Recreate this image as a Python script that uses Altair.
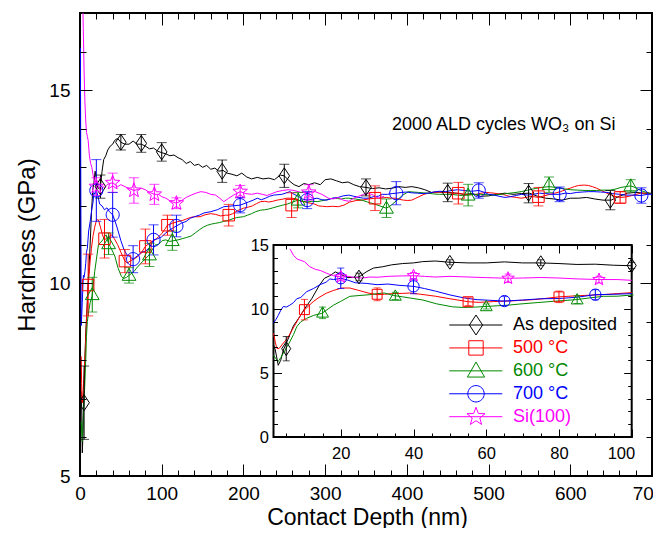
import math
import altair as alt
import pandas as pd

FONT = "Liberation Sans"
SERIES = ["As deposited", "500 °C", "600 °C", "700 °C", "Si(100)"]
COLORS = ["#000000", "#ff0000", "#008800", "#0000ff", "#ff00ff"]
ANNOT = "2000 ALD cycles WO₃ on Si"
X_TITLE = "Contact Depth (nm)"
Y_TITLE = "Hardness (GPa)"

# ---- line data (contact depth nm, hardness GPa) ----
BLACK = [(1.5,7.2),(2.0,6.8),(2.8,5.6),(3.5,6.0),(4.2,6.8),(5.0,7.3),(6.0,8.0),(7.0,8.7),(8.5,9.3),(10.0,10.0),
 (12.0,10.8),(14.0,11.8),(15.5,12.4),(17.0,12.6),(18.5,12.9),(20.0,12.7),(22.0,12.45),(25.0,12.5),(27.0,12.9),
 (29.0,13.2),(31.5,13.3),(34.0,13.45),(37.0,13.55),(40.0,13.6),(42.5,13.7),(46.0,13.75),(50.0,13.65),(55.0,13.6),
 (60.0,13.6),(65.0,13.68),(70.0,13.6),(75.0,13.6),(80.0,13.55),(85.0,13.48),(90.0,13.5),(95.0,13.42),(100.0,13.38),
 (105,13.35),(110,13.3),(115,13.32),(120,13.25),(125,13.2),(130,13.1),(135,13.15),(140,13.05),(145,13.08),(150,13.0),
 (155,13.05),(160,12.95),(165,12.98),(170,12.9),(175,12.92),(180,12.85),(186,12.82),(192,12.78),(198,12.85),
 (204,12.75),(210,12.7),(217,12.74),(224,12.7),(231,12.72),(238,12.68),(245,12.8),(250,12.78),(256,12.65),
 (262,12.55),(268,12.5),(274,12.58),(280,12.55),(287,12.6),(294,12.55),(300,12.68),(307,12.7),(314,12.65),
 (321,12.6),(328,12.62),(335,12.55),(342,12.5),(350,12.48),(358,12.45),(366,12.47),(374,12.44),(382,12.46),
 (390,12.5),(398,12.48),(406,12.5),(414,12.47),(422,12.42),(430,12.35),(438,12.36),(450,12.35),(460,12.33),
 (470,12.3),(480,12.32),(490,12.25),(500,12.26),(510,12.3),(520,12.33),(530,12.3),(540,12.32),(550,12.33),
 (560,12.25),(570,12.2),(580,12.18),(590,12.15),(600,12.2),(610,12.2),(620,12.22),(630,12.18),(640,12.15),
 (650,12.15),(660,12.25),(670,12.33),(680,12.35),(690,12.33),(700,12.33)]

RED = [(1.5,8.1),(2.0,7.4),(2.4,6.93),(3.0,6.9),(3.8,7.19),(4.7,7.5),(5.6,7.84),(6.5,8.3),(7.4,8.75),(8.5,9.3),
 (9.7,9.85),(11.0,10.2),(12.4,10.57),(14.0,10.9),(16.0,11.23),(18.0,11.45),(20.3,11.64),(22.5,11.64),(25.0,11.45),
 (27.5,11.25),(30.0,11.12),(32.0,11.15),(34.0,11.2),(37.0,11.22),(39.0,11.25),(42.0,11.15),(46.0,11.0),(50.0,10.8),
 (55.0,10.57),(58.0,10.52),(62.0,10.58),(66.0,10.62),(70.0,10.68),(74.0,10.75),(80.0,10.95),(86.0,11.05),
 (92.0,11.12),(96.0,11.2),(100.0,11.28),(104,11.4),(107,11.5),(113,11.55),(119,11.59),(125,11.62),(130,11.66),
 (135,11.7),(140,11.72),(147,11.72),(153,11.77),(160,11.8),(166,11.78),(172,11.74),(178,11.76),(182,11.76),
 (187,11.8),(193,11.88),(200,11.94),(206,11.97),(211,12.0),(216,12.06),(221,12.11),(226,12.12),(231,12.1),
 (236,12.12),(241,12.15),(247,12.17),(253,12.2),(259,12.2),(265,12.18),(270,12.12),(276,12.1),(282,12.07),
 (287,12.05),(292,12.0),(297,11.99),(302,11.98),(309,11.99),(316,11.98),(323,12.02),(330,12.1),(338,12.14),
 (345,12.15),(353,12.18),(361,12.2),(368,12.2),(375,12.22),(381,12.2),(386,12.2),(391,12.17),(396,12.15),
 (401,12.14),(406,12.15),(411,12.2),(416,12.25),(421,12.3),(426,12.33),(433,12.35),(440,12.36),(447,12.35),
 (455,12.33),(463,12.33),(470,12.3),(478,12.29),(485,12.3),(491,12.33),(497,12.35),(502,12.34),(507,12.33),
 (512,12.31),(517,12.3),(522,12.27),(527,12.24),(534,12.22),(540,12.2),(546,12.22),(552,12.25),(561,12.22),
 (568,12.26),(575,12.3),(581,12.33),(588,12.37),(594,12.42),(600,12.46),(605,12.5),(610,12.53),(617,12.54),
 (622,12.53),(627,12.5),(632,12.46),(637,12.41),(642,12.36),(648,12.3),(654,12.25),(661,12.22),(667,12.23),
 (672,12.25),(679,12.29),(686,12.33),(692,12.33),(697,12.33)]

GREEN = [(1.5,6.4),(2.2,6.1),(2.8,5.9),(3.5,6.2),(4.2,6.54),(5.0,6.95),(6.0,7.45),(7.0,8.0),(7.9,8.62),(9.0,9.0),
 (10.6,9.27),(12.5,9.5),(14.8,9.66),(16.5,10.0),(18.0,10.3),(20.0,10.6),(22.5,10.99),(25.0,11.05),(28.0,11.12),
 (30.0,11.2),(32.0,11.25),(34.6,11.05),(37.0,10.95),(39.0,10.86),(42.6,10.7),(46.4,10.4),(50.7,10.17),(53.7,10.12),
 (57.0,10.15),(60.0,10.2),(63.0,10.25),(66.0,10.3),(69.3,10.39),(74.0,10.5),(78.5,10.6),(84.7,10.73),(88.0,10.85),
 (92.2,10.99),(96.0,11.0),(100.5,11.1),(105,11.12),(110,11.08),(115,11.1),(120,11.12),(125,11.15),(130,11.18),
 (136,11.22),(141,11.3),(146,11.38),(151,11.45),(156,11.5),(161,11.53),(166,11.55),(171,11.57),(176,11.6),
 (181,11.62),(186,11.66),(192,11.7),(200,11.72),(205,11.76),(210,11.8),(215,11.85),(221,11.89),(226,11.9),
 (231,11.92),(236,11.95),(241,11.98),(248,12.02),(254,12.05),(260,12.1),(267,12.15),(273,12.12),(278,12.1),
 (284,12.12),(290,12.11),(295,12.13),(300,12.15),(305,12.18),(310,12.2),(315,12.19),(320,12.18),(325,12.2),
 (329,12.2),(337,12.18),(345,12.15),(352,12.1),(360,12.05),(367,12.0),(375,11.94),(381,12.02),(388,12.15),
 (395,12.28),(402,12.37),(408,12.36),(414,12.35),(420,12.34),(426,12.33),(433,12.31),(440,12.3),(447,12.3),
 (455,12.3),(462,12.28),(468,12.27),(475,12.28),(482,12.3),(490,12.3),(498,12.29),(507,12.28),(515,12.3),
 (522,12.32),(530,12.34),(540,12.37),(548,12.41),(557,12.45),(565,12.48),(574,12.5),(582,12.48),(590,12.45),
 (600,12.42),(609,12.41),(618,12.4),(625,12.4),(632,12.4),(640,12.41),(649,12.41),(656,12.44),(662,12.48),
 (668,12.5),(674,12.52),(680,12.47),(686,12.4),(692,12.36),(697,12.33)]

BLUE = [(0.5,16.1),(1.0,12.5),(1.5,8.9),(2.2,9.2),(2.8,9.5),(3.5,9.9),(4.2,10.2),(5.0,10.15),(6.0,10.3),(7.0,10.5),
 (7.9,10.8),(9.0,10.9),(10.6,11.35),(12.5,11.6),(14.3,11.9),(16.0,12.1),(17.0,12.35),(18.0,12.3),(19.0,12.35),
 (20.0,12.4),(22.0,12.25),(24.0,12.05),(27.0,12.0),(30.0,11.9),(33.0,11.95),(36.0,11.85),(40.0,11.77),(43.0,11.6),
 (46.0,11.4),(50.0,11.1),(54.0,10.86),(57.5,10.73),(61.0,10.68),(65.0,10.62),(70.0,10.7),(75.0,10.8),(80.0,10.82),
 (85.0,10.92),(90.0,11.12),(95.0,11.15),(100.0,11.2),(105,11.3),(110,11.38),(118,11.48),(124,11.55),(130,11.6),
 (135,11.68),(140,11.72),(146,11.76),(152,11.82),(160,11.85),(168,11.9),(176,11.98),(186,12.0),(196,12.02),
 (206,12.1),(212,12.15),(217,12.2),(222,12.16),(227,12.2),(232,12.25),(237,12.28),(247,12.3),(257,12.37),
 (262,12.3),(267,12.25),(272,12.18),(278,12.15),(285,12.18),(290,12.2),(296,12.16),(302,12.15),(309,12.2),
 (316,12.22),(322,12.26),(329,12.28),(335,12.25),(341,12.22),(347,12.2),(353,12.2),(359,12.24),(365,12.25),
 (370,12.3),(376,12.3),(382,12.32),(387,12.33),(394,12.35),(400,12.36),(406,12.34),(413,12.33),(420,12.32),
 (426,12.33),(433,12.36),(440,12.38),(447,12.37),(455,12.4),(462,12.42),(470,12.4),(479,12.38),(488,12.4),
 (495,12.35),(500,12.3),(507,12.28),(513,12.25),(520,12.22),(527,12.24),(534,12.27),(540,12.3),(548,12.28),
 (555,12.3),(562,12.33),(570,12.32),(578,12.3),(587,12.3),(594,12.33),(600,12.32),(608,12.35),(615,12.36),
 (622,12.37),(629,12.37),(637,12.36),(645,12.35),(652,12.32),(660,12.3),(667,12.28),(675,12.28),(687,12.27),
 (694,12.3),(700,12.3)]

PINK = [(2.0,19.5),(3.0,17.8),(4.0,16.6),(5.0,15.5),(6.0,14.7),(7.0,14.2),(8.0,13.9),(9.0,13.8),(10.0,13.7),
 (11.5,13.3),(13.0,13.1),(14.5,13.0),(16.0,12.8),(18.0,12.6),(20.0,12.5),(22.0,12.55),(24.0,12.45),(26.0,12.42),
 (28.0,12.5),(30.0,12.48),(33.0,12.55),(36.0,12.58),(40.0,12.6),(43.0,12.55),(46.0,12.5),(50.0,12.55),(55.0,12.5),
 (60.0,12.45),(66.0,12.4),(70.0,12.42),(75.0,12.46),(80.0,12.42),(85.0,12.35),(91.0,12.3),(96.0,12.3),(100.0,12.24),
 (105,12.2),(111,12.12),(118,12.07),(125,12.15),(130,12.22),(136,12.28),(142,12.33),(148,12.37),(154,12.35),
 (160,12.3),(166,12.28),(171,12.2),(176,12.11),(182,12.2),(188,12.28),(196,12.37),(203,12.32),(210,12.3),
 (217,12.33),(223,12.3),(229,12.27),(235,12.32),(241,12.37),(248,12.4),(255,12.42),(262,12.4),(270,12.35),
 (280,12.35),(288,12.37),(296,12.3),(304,12.2),(310,12.18),(316,12.22),(322,12.15),(329,12.12),(335,12.2),
 (341,12.25),(347,12.3),(353,12.33),(359,12.28),(365,12.2),(372,12.25)]

# ---- markers with error bars (nm, GPa, +/- err) ----
BLACK_MK = [(5,6.9,0.95),(25,12.5,0.3),(50,13.65,0.2),(75,13.62,0.23),(100,13.4,0.24),(174,12.9,0.29),
 (250,12.78,0.3),(350,12.48,0.22),(450,12.35,0.24),(549,12.33,0.25),(649,12.15,0.25)]
RED_MK = [(10,9.95,0.8),(30,11.15,0.5),(55,10.57,0.3),(80,10.95,0.45),(107,11.5,0.26),(182,11.76,0.28),
 (259,12.02,0.32),(361,12.2,0.32),(463,12.33,0.28),(561,12.24,0.24),(661,12.22,0.15)]
GREEN_MK = [(15,9.7,0.45),(35,11.02,0.28),(60,10.2,0.2),(85,10.73,0.3),(113,11.1,0.25),(267,12.15,0.2),
 (375,11.94,0.24),(475,12.28,0.28),(574,12.55,0.2),(674,12.52,0.16)]
BLUE_MK = [(20,12.4,0.8),(40,11.77,0.58),(65,10.62,0.35),(90,11.12,0.39),(118,11.48,0.28),(196,12.02,0.2),
 (278,12.15,0.22),(387,12.33,0.3),(488,12.4,0.2),(587,12.3,0.19),(687,12.27,0.2)]
PINK_MK = [(20,12.5,0.23),(40,12.6,0.25),(66,12.4,0.33),(91,12.3,0.26),(118,12.07,0.14),(196,12.37,0.16),
 (280,12.35,0.2)]

LINES = [BLACK, RED, GREEN, BLUE, PINK]
MARKS = [BLACK_MK, RED_MK, GREEN_MK, BLUE_MK, PINK_MK]

# tick values
MAIN_X_MAJOR = list(range(0, 701, 100))
MAIN_X_MINOR = [v for v in range(20, 700, 20) if v % 100]
MAIN_Y_MAJOR = [5, 10, 15]
MAIN_Y_MINOR = [6, 7, 8, 9, 11, 12, 13, 14, 16]
INS_X_LABELS = [20, 40, 60, 80, 100]
INS_X_MINOR = [v for v in range(5, 100, 5) if v % 20]
INS_Y_MAJOR = [0, 5, 10, 15]
INS_Y_MINOR = [v for v in range(1, 15) if v % 5]


def star_path(ro, ri):
    pts = []
    for k in range(10):
        r = ro if k % 2 == 0 else ri
        a = -math.pi / 2 + k * math.pi / 5
        pts.append(f"{r*math.cos(a):.3f},{r*math.sin(a):.3f}")
    return "M" + "L".join(pts) + "Z"


SHAPES = [
    "M0,-1L0.66,0L0,1L-0.66,0Z",
    "M-0.72,-0.72L0.72,-0.72L0.72,0.72L-0.72,0.72Z",
    "M0,-0.88L0.86,0.62L-0.86,0.62Z",
    "M0.82,0A0.82,0.82,0,1,1,-0.82,0A0.82,0.82,0,1,1,0.82,0Z",
    star_path(0.95, 0.4),
]

# ---- tables ----
rows = []
for name, pts in zip(SERIES, LINES):
    for i, (x, y) in enumerate(pts):
        rows.append({"series": name, "nm": x, "H": y, "idx": i})
line_df = pd.DataFrame(rows)
rows = []
for name, pts in zip(SERIES, MARKS):
    for (x, y, e) in pts:
        rows.append({"series": name, "nm": x, "H": y, "lo": y - e, "hi": y + e})
mk_df = pd.DataFrame(rows)

ins_line_df = line_df[(line_df.nm >= 1.5) & (line_df.nm <= 100.5) & (line_df.H <= 15)]
ins_mk_df = mk_df[mk_df.nm <= 100]

# plot-area geometry (svg kept inside the 661x536 page with its 8px margin)
W, H = 572, 463
IX0, IX1, IYB, IYT = 193.5, 551.7, 424.0, 232.0

mx = alt.Scale(domain=[0, 700], nice=False, zero=False)
my = alt.Scale(domain=[5, 17], nice=False, zero=False)
ix = alt.Scale(domain=[1.5, 100], range=[IX0, IX1], nice=False, zero=False)
iy = alt.Scale(domain=[0, 15], range=[IYB, IYT], nice=False, zero=False)

color_enc = alt.Color("series:N", scale=alt.Scale(domain=SERIES, range=COLORS), legend=None)
shape_enc = alt.Shape("series:N", scale=alt.Scale(domain=SERIES, range=SHAPES), legend=None)

main_xax = alt.Axis(orient="bottom", values=MAIN_X_MAJOR, ticks=False, domain=False, grid=False,
                    labelFontSize=19, labelPadding=8, labelFlush=False, labelOverlap=False,
                    labelOffset={"condition": {"test": "datum.value == 700", "value": -4}, "value": 0},
                    title=None)
main_yax = alt.Axis(orient="left", values=MAIN_Y_MAJOR, ticks=False, domain=False, grid=False,
                    labelFontSize=19, labelPadding=10, labelFlush=False, labelOverlap=False,
                    title=Y_TITLE, titleFontSize=24, titleFontWeight="normal", titlePadding=9)
ins_xax = alt.Axis(orient="bottom", offset=-(H - IYB), values=INS_X_LABELS, ticks=False, domain=False,
                   grid=False, labelFontSize=16.5, labelPadding=8, labelFlush=True, labelFlushOffset=3,
                   labelOverlap=False, title=None, zindex=1)
ins_yax = alt.Axis(orient="left", offset=-IX0, values=INS_Y_MAJOR, ticks=False, domain=False, grid=False,
                   labelFontSize=16.5, labelPadding=5, labelFlush=False, labelOverlap=False, title=None, zindex=1)


def data_layer(ldf, mdf, xs, ys, xax, yax, psize, cap, extra=None):
    X = lambda f: alt.X(f, scale=xs, axis=xax)
    Y = lambda f: alt.Y(f, scale=ys, axis=yax)
    lines = alt.Chart(ldf).mark_line(strokeWidth=1, clip=True).encode(
        x=X("nm:Q"), y=Y("H:Q"), color=color_enc, order=alt.Order("idx:Q"))
    bars = alt.Chart(mdf).mark_rule(strokeWidth=1, clip=True).encode(
        x=X("nm:Q"), y=Y("lo:Q"), y2="hi:Q", color=color_enc)
    cap_lo = alt.Chart(mdf).mark_tick(orient="horizontal", size=cap, thickness=1, clip=True).encode(
        x=X("nm:Q"), y=Y("lo:Q"), color=color_enc)
    cap_hi = alt.Chart(mdf).mark_tick(orient="horizontal", size=cap, thickness=1, clip=True).encode(
        x=X("nm:Q"), y=Y("hi:Q"), color=color_enc)
    pts = alt.Chart(mdf).mark_point(filled=False, size=psize, strokeWidth=1, opacity=1, clip=True).encode(
        x=X("nm:Q"), y=Y("H:Q"), color=color_enc, shape=shape_enc)
    parts = ([extra] if extra is not None else []) + [lines, bars, cap_lo, cap_hi, pts]
    return alt.layer(*parts)


dummy = pd.DataFrame({"d": [0]})


def tick_layer(xs, ys, xvals, yvals, size, xorient, xoff, yorient, yoff):
    xa = alt.Axis(orient=xorient, offset=xoff, values=xvals, labels=False, domain=False, grid=False,
                  ticks=True, tickSize=size, tickWidth=1, tickColor="black", title=None, zindex=1)
    ya = alt.Axis(orient=yorient, offset=yoff, values=yvals, labels=False, domain=False, grid=False,
                  ticks=True, tickSize=size, tickWidth=1, tickColor="black", title=None, zindex=1)
    return alt.Chart(dummy).mark_point(opacity=0).encode(
        x=alt.X("d:Q", scale=xs, axis=xa), y=alt.Y("d:Q", scale=ys, axis=ya))


texts = pd.DataFrame({"t": [ANNOT], "xt": [X_TITLE]})
annot = alt.Chart(texts).mark_text(
    align="left", baseline="alphabetic", fontSize=18, font=FONT, color="black"
).encode(x=alt.value(312), y=alt.value(117), text="t:N")
xtitle = alt.Chart(texts).mark_text(
    align="center", baseline="alphabetic", fontSize=23, font=FONT, color="black"
).encode(x=alt.value(287.5), y=alt.value(511.5), text="xt:N")

main = alt.layer(data_layer(line_df, mk_df, mx, my, main_xax, main_yax, 256, 10), annot, xtitle)

# main frame ticks (inward)
m1 = tick_layer(mx, my, MAIN_X_MAJOR, MAIN_Y_MAJOR, 12, "top", -H, "right", -W)
m2 = tick_layer(mx, my, MAIN_X_MINOR, MAIN_Y_MINOR, 6, "top", -H, "right", -W)
m3 = tick_layer(mx, my, MAIN_X_MAJOR, MAIN_Y_MAJOR, 12, "bottom", -H, "left", -W)
m4 = tick_layer(mx, my, MAIN_X_MINOR, MAIN_Y_MINOR, 6, "bottom", -H, "left", -W)

frame_df = pd.DataFrame({"x0": [1.5], "x1": [100.0], "y0": [0.0], "y1": [15.0]})
frame = alt.Chart(frame_df).mark_rect(fill="white", stroke="black", strokeWidth=2).encode(
    x=alt.X("x0:Q", scale=ix, axis=ins_xax), x2="x1:Q",
    y=alt.Y("y0:Q", scale=iy, axis=ins_yax), y2="y1:Q")
inset = data_layer(ins_line_df, ins_mk_df, ix, iy, ins_xax, ins_yax, 190, 7, extra=frame)

i1 = tick_layer(ix, iy, INS_X_LABELS, INS_Y_MAJOR, 8, "top", -IYB, "right", IX0 - W)
i2 = tick_layer(ix, iy, INS_X_MINOR, INS_Y_MINOR, 4, "top", -IYB, "right", IX0 - W)
i3 = tick_layer(ix, iy, INS_X_LABELS, INS_Y_MAJOR, 8, "bottom", IYT - H, "left", -IX1)
i4 = tick_layer(ix, iy, INS_X_MINOR, INS_Y_MINOR, 4, "bottom", IYT - H, "left", -IX1)

# legend inside the inset
leg_df = pd.DataFrame({"series": SERIES, "row": list(range(len(SERIES)))})
ly = alt.Scale(domain=[0, 4], range=[312, 403.7], nice=False, zero=False)
leg_rule = alt.Chart(leg_df).mark_rule(strokeWidth=1).encode(
    x=alt.value(369.3), x2=alt.value(422.3), y=alt.Y("row:Q", scale=ly, axis=None), color=color_enc)
leg_pt = alt.Chart(leg_df).mark_point(filled=False, size=400, strokeWidth=1, opacity=1).encode(
    x=alt.value(396), y=alt.Y("row:Q", scale=ly, axis=None), color=color_enc, shape=shape_enc)
leg_txt = alt.Chart(leg_df).mark_text(align="left", baseline="middle", fontSize=18, font=FONT).encode(
    x=alt.value(433), y=alt.Y("row:Q", scale=ly, axis=None), text="series:N", color=color_enc)
legend = alt.layer(leg_rule, leg_pt, leg_txt)

chart = alt.layer(main, m1, m2, m3, m4, inset, i1, i2, i3, i4, legend).resolve_scale(
    x="independent", y="independent"
).properties(
    width=W, height=H,
    padding={"left": 72, "top": 5, "right": 1, "bottom": 52},
    autosize=alt.AutoSizeParams(type="none"),
).configure_view(
    stroke="black", strokeWidth=2
).configure_axis(
    labelFont=FONT, titleFont=FONT, labelColor="black", titleColor="black"
).configure_text(font=FONT)

chart.save("out.html", embed_options={"renderer": "svg", "actions": False})
